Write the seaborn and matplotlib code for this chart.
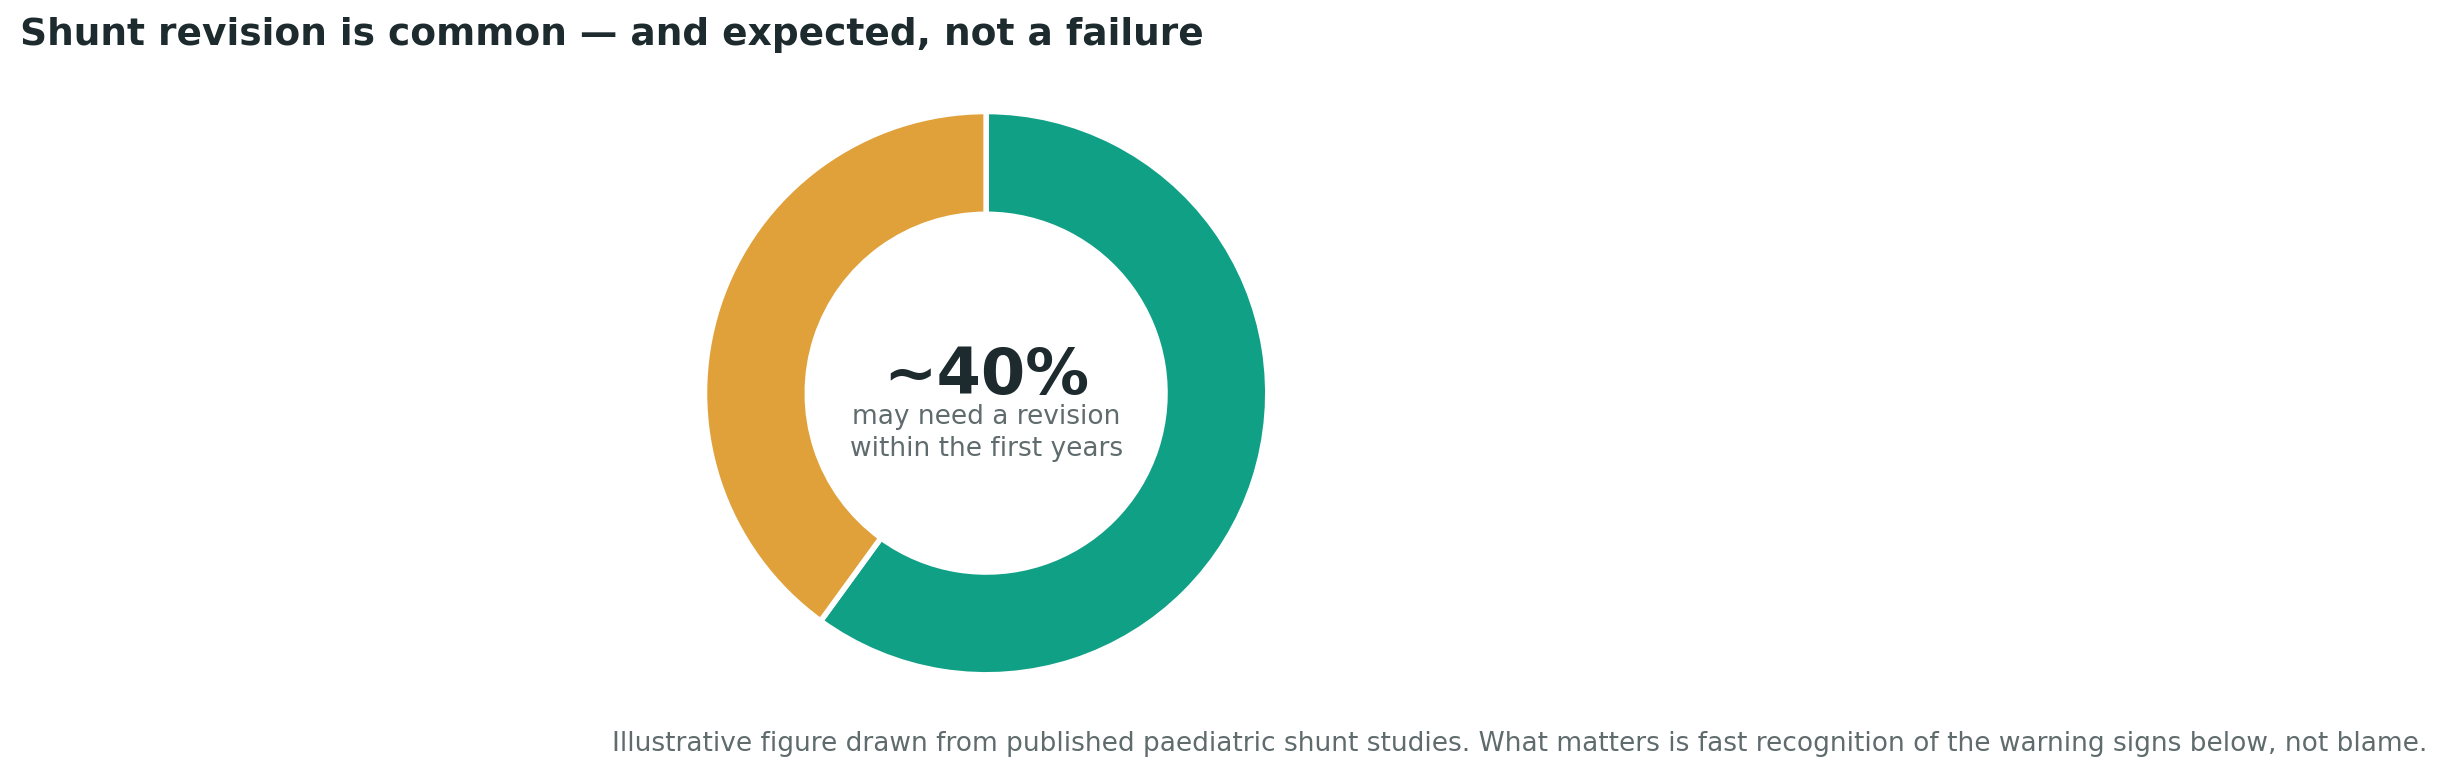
import matplotlib
matplotlib.use("Agg")
import matplotlib.pyplot as plt
import seaborn as sns

categories = ["No revision needed", "May need a revision"]
values = [60, 40]
colors = ["#0FA086", "#E0A03A"]

sns.set_theme(style="white")
plt.rcParams['font.family'] = ['DejaVu Sans']

W, H = 2447, 777
dpi = 200
fig = plt.figure(figsize=(W / dpi, H / dpi), dpi=dpi)
h = 0.725
w = h * H / W
cx, cy = 0.403, 0.494
ax = fig.add_axes([cx - w / 2, cy - h / 2, w, h])
ax.pie(values, colors=colors, startangle=90, counterclock=False,
       wedgeprops=dict(width=0.365, edgecolor="white", linewidth=2))
ax.set_xlim(-1, 1); ax.set_ylim(-1, 1); ax.set_aspect("equal")
ax.axis("off")

ax.text(0, 0.06, "~40%", ha="center", va="center", fontsize=23,
        fontweight="bold", color="#1D2B2E")
ax.text(0, -0.14, "may need a revision\nwithin the first years", ha="center",
        va="center", fontsize=9.5, color="#5F6B6D", linespacing=1.3)

fig.text(0.008, 0.955, "Shunt revision is common — and expected, not a failure",
         ha="left", va="center", fontsize=13.5, fontweight="bold", color="#1D2B2E")
fig.text(0.992, 0.042, "Illustrative figure drawn from published paediatric shunt studies. "
         "What matters is fast recognition of the warning signs below, not blame.",
         ha="right", va="center", fontsize=9.5, color="#5F6B6D")

fig.savefig("out.png", dpi=dpi)
